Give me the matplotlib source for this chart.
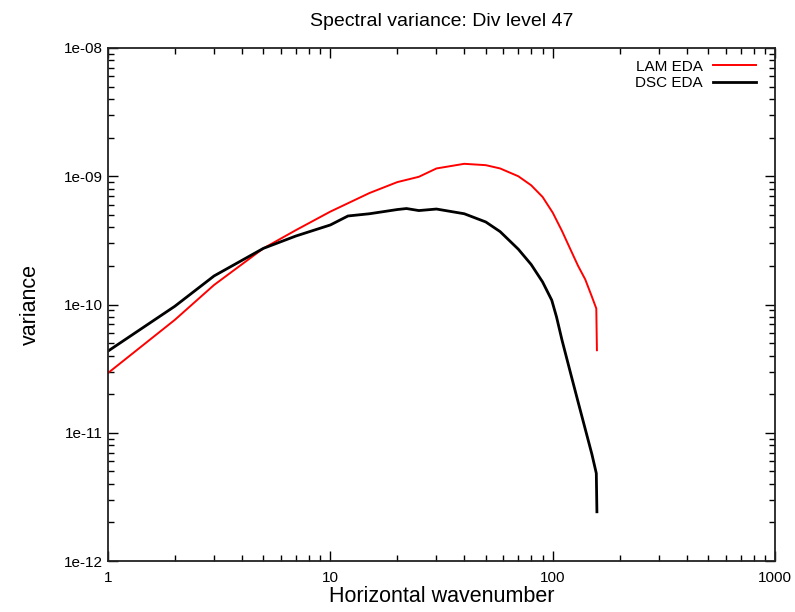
import matplotlib
matplotlib.use('Agg')
import matplotlib.pyplot as plt
from matplotlib.ticker import LogLocator, FixedLocator, NullFormatter

plt.rcParams['font.family'] = ['Liberation Sans', 'DejaVu Sans']

# wavenumbers and variance
k_lam = [1, 2, 3, 5, 7, 10, 15, 20, 25, 30, 40, 50, 58, 70, 80, 90, 100,
         110, 120, 130, 140, 150, 157, 158]
v_lam = [2.92e-11, 7.6e-11, 1.42e-10, 2.74e-10, 3.8e-10, 5.3e-10, 7.4e-10,
         9.0e-10, 9.9e-10, 1.15e-9, 1.25e-9, 1.22e-9, 1.15e-9, 1.0e-9,
         8.5e-10, 6.9e-10, 5.2e-10, 3.75e-10, 2.7e-10, 2.0e-10, 1.57e-10,
         1.15e-10, 9.3e-11, 4.4e-11]

k_dsc = [1, 2, 3, 5, 7, 10, 12, 15, 20, 22, 25, 30, 40, 50, 58, 70, 80, 90,
         99, 104, 110, 120, 130, 140, 150, 157, 158]
v_dsc = [4.33e-11, 9.7e-11, 1.67e-10, 2.74e-10, 3.42e-10, 4.17e-10, 4.9e-10,
         5.1e-10, 5.5e-10, 5.6e-10, 5.4e-10, 5.55e-10, 5.1e-10, 4.4e-10,
         3.7e-10, 2.7e-10, 2.05e-10, 1.5e-10, 1.08e-10, 8.0e-11, 5.3e-11,
         2.96e-11, 1.74e-11, 1.07e-11, 6.8e-12, 4.83e-12, 2.42e-12]

fig = plt.figure(figsize=(7.95, 6.12), dpi=100)
ax = fig.add_axes([0.1358, 0.0833, 0.8392, 0.8383])

ax.plot(k_lam, v_lam, color='#ff0000', lw=1.4, label='LAM EDA')
ax.plot(k_dsc, v_dsc, color='black', lw=2.0, label='DSC EDA')

ax.set_xscale('log')
ax.set_yscale('log')
ax.set_xlim(1, 1000)
ax.set_ylim(1e-12, 1e-8)

ax.xaxis.set_major_locator(FixedLocator([1, 10, 100, 1000]))
ax.set_xticklabels(['1', '10', '100', '1000'])
ax.xaxis.set_minor_locator(LogLocator(base=10, subs=range(2, 10)))
ax.xaxis.set_minor_formatter(NullFormatter())
ax.yaxis.set_major_locator(FixedLocator([1e-12, 1e-11, 1e-10, 1e-9, 1e-8]))
ax.set_yticklabels(['1e-12', '1e-11', '1e-10', '1e-09', '1e-08'])
ax.yaxis.set_minor_locator(LogLocator(base=10, subs=range(2, 10)))
ax.yaxis.set_minor_formatter(NullFormatter())

ax.tick_params(which='both', direction='in', top=True, right=True, labelsize=11)
ax.tick_params(which='major', length=7, width=1)
ax.tick_params(which='minor', length=4, width=1)
ax.tick_params(axis='x', which='major', pad=7)
for s in ax.spines.values():
    s.set_linewidth(1.3)
    s.set_color('#222222')

ax.set_title('Spectral variance: Div level 47', fontsize=14, pad=16)
ax.set_xlabel('Horizontal wavenumber', fontsize=15.5, labelpad=1)
ax.set_ylabel('variance', fontsize=15.5, labelpad=17)

ax.legend(loc='upper right', bbox_to_anchor=(0.985, 0.995), frameon=False,
          markerfirst=False, fontsize=11, handlelength=2.8, handletextpad=0.7,
          labelspacing=0.15, borderaxespad=0.2)

fig.savefig('out.png', dpi=100)
